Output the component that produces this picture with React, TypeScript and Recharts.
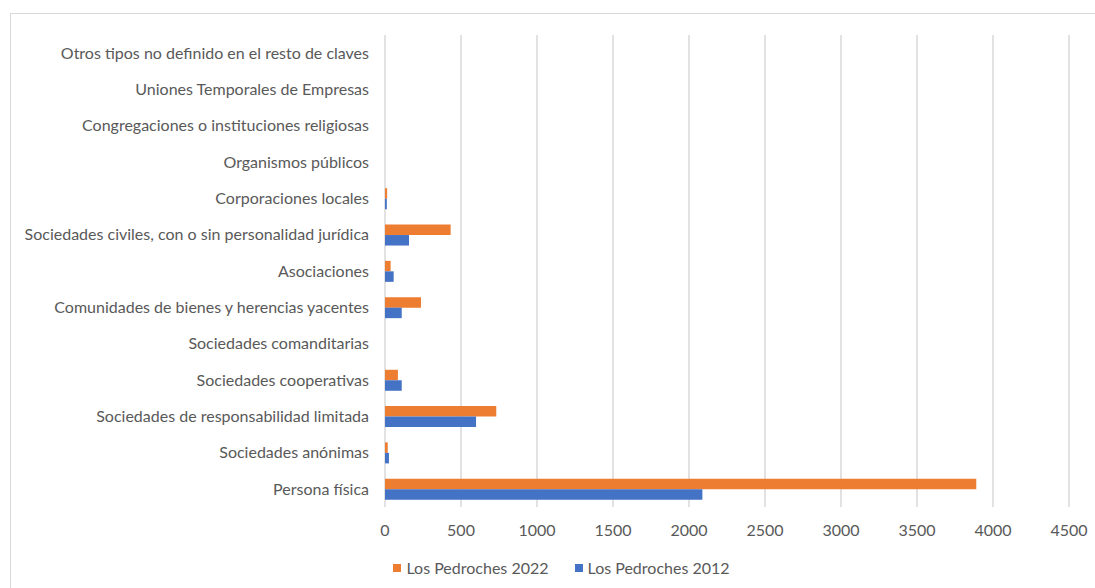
import { BarChart, Bar, XAxis, YAxis, CartesianGrid } from 'recharts';

const categories = [
  'Otros tipos no definido en el resto de claves',
  'Uniones Temporales de Empresas',
  'Congregaciones o instituciones religiosas',
  'Organismos públicos',
  'Corporaciones locales',
  'Sociedades civiles, con o sin personalidad jurídica',
  'Asociaciones',
  'Comunidades de bienes y herencias yacentes',
  'Sociedades comanditarias',
  'Sociedades cooperativas',
  'Sociedades de responsabilidad limitada',
  'Sociedades anónimas',
  'Persona física',
];

const values2022 = [0, 0, 0, 0, 14, 432, 37, 237, 0, 85, 732, 18, 3890];
const values2012 = [0, 0, 0, 0, 12, 158, 57, 110, 0, 110, 599, 26, 2088];

const xTicks = [0, 500, 1000, 1500, 2000, 2500, 3000, 3500, 4000, 4500];

const series = [
  { key: 'y2022', name: 'Los Pedroches 2022', color: '#ED7D31' },
  { key: 'y2012', name: 'Los Pedroches 2012', color: '#4472C4' },
];

const data = categories.map((name, i) => ({
  name,
  y2022: values2022[i],
  y2012: values2012[i],
}));

const font = 'Lato, sans-serif';
const textColor = '#595959';
const fs = 16;

export default function App() {
  return (
    <div style={{ position: 'absolute', left: 0, top: 0, width: 1095, height: 588, background: '#fff', overflow: 'hidden', fontFamily: font }}>
      <div style={{ position: 'absolute', left: 10, top: 13, width: 1100, height: 600, border: '1px solid #d9d9d9' }} />
      <BarChart
        width={1095}
        height={588}
        data={data}
        layout="vertical"
        margin={{ top: 35, right: 26, bottom: 51, left: 0 }}
        barGap={0}
        barSize={10.5}
        style={{ position: 'absolute', left: 0, top: 0 }}
      >
        <CartesianGrid horizontal={false} stroke="#d9d9d9" strokeWidth={1.5} />
        <XAxis
          type="number"
          domain={[0, 4500]}
          ticks={xTicks}
          axisLine={false}
          tickLine={false}
          tick={{ fill: textColor, fontSize: fs }}
          tickMargin={12}
        />
        <YAxis
          type="category"
          dataKey="name"
          width={385}
          axisLine={false}
          tickLine={false}
          interval={0}
          tickMargin={10}
          tick={{ fill: textColor, fontSize: fs }}
        />
        {series.map((s) => (
          <Bar key={s.key} dataKey={s.key} name={s.name} fill={s.color} isAnimationActive={false} />
        ))}
      </BarChart>
      <div style={{ position: 'absolute', left: 0, width: 1095, top: 558, display: 'flex', justifyContent: 'center', gap: 26, paddingLeft: 28, boxSizing: 'border-box', fontSize: fs, color: textColor }}>
        {series.map((s) => (
          <div key={s.key} style={{ display: 'flex', alignItems: 'center', gap: 5 }}>
            <span style={{ width: 8, height: 8, background: s.color, display: 'inline-block' }} />
            <span>{s.name}</span>
          </div>
        ))}
      </div>
    </div>
  );
}
